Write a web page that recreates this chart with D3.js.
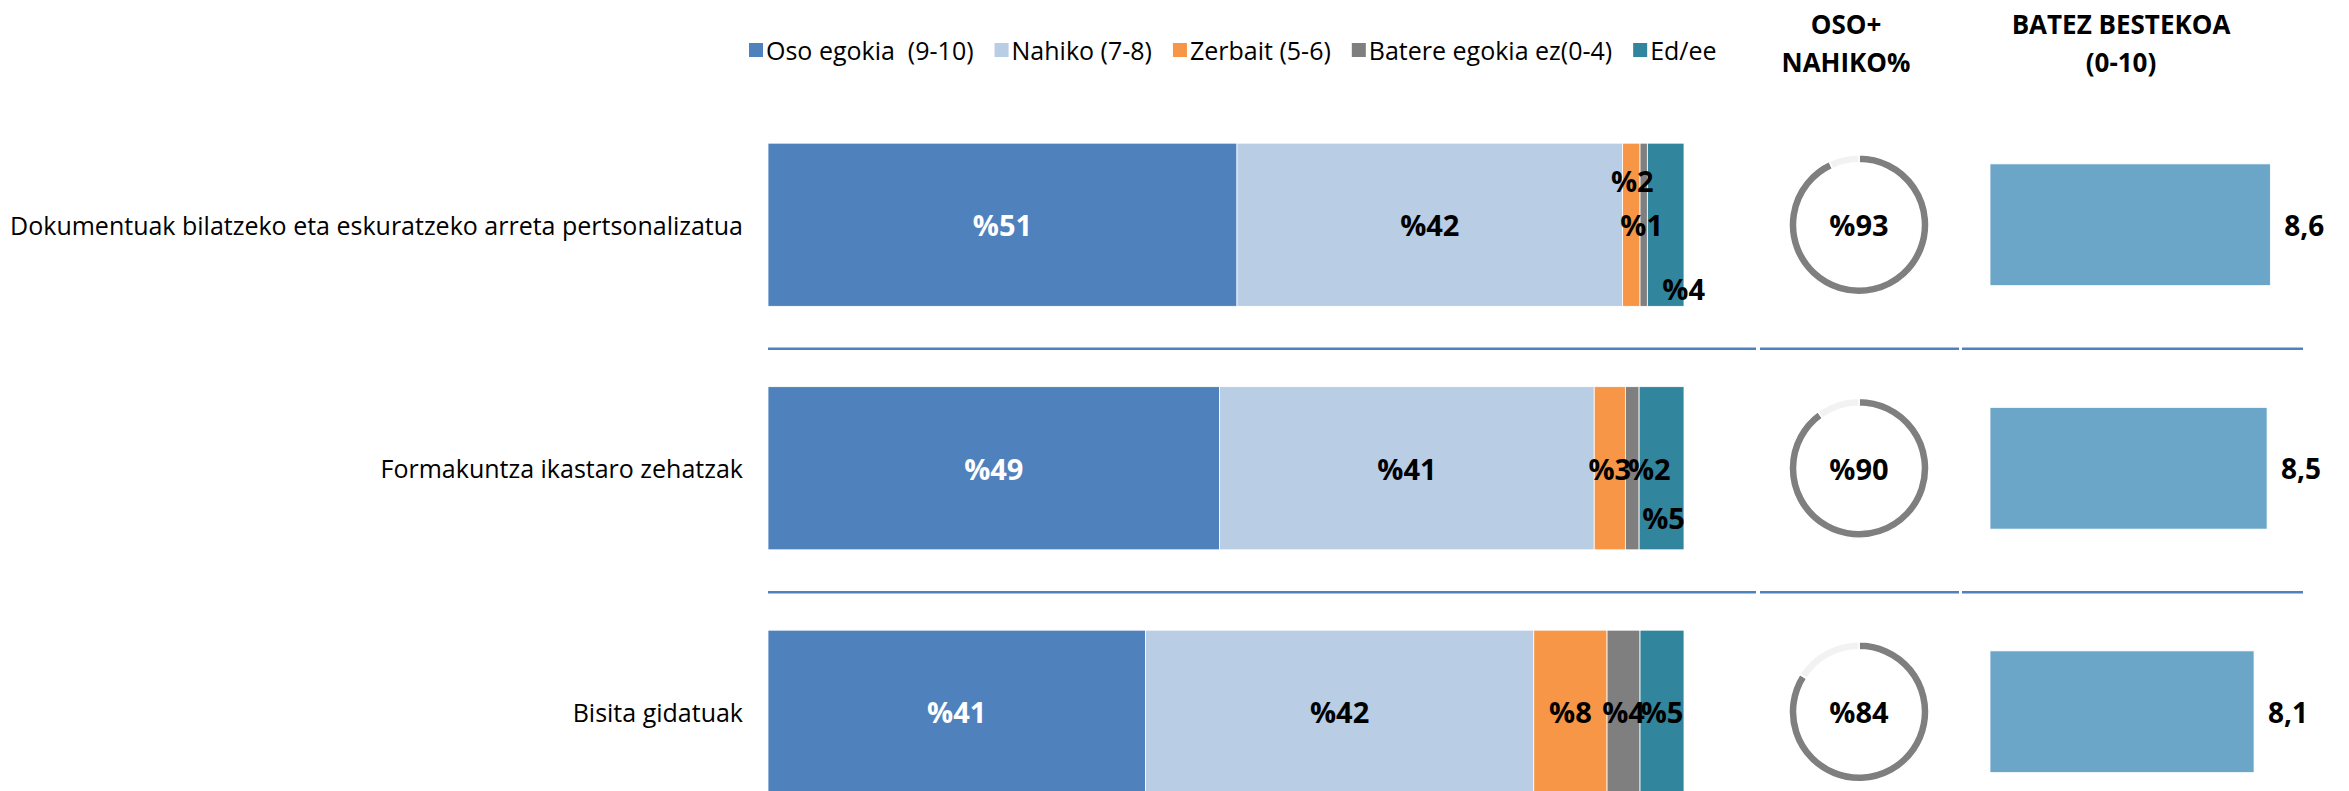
<!DOCTYPE html>
<html>
<head>
<meta charset="utf-8">
<script src="https://cdn.jsdelivr.net/npm/d3@7"></script>
<style>
  body { margin: 0; background: #fff; }
  text { font-family: 'Open Sans', sans-serif; }
</style>
</head>
<body>
<div id="root"></div>
<script>
const SVG_WIDTH = 2349;
const SVG_HEIGHT = 791;

const categories = [
  'Dokumentuak bilatzeko eta eskuratzeko arreta pertsonalizatua',
  'Formakuntza ikastaro zehatzak',
  'Bisita gidatuak',
];
const seriesNames = ['Oso egokia  (9-10)', 'Nahiko (7-8)', 'Zerbait (5-6)', 'Batere egokia ez(0-4)', 'Ed/ee'];
const osoEgokia = [51.2, 49.3, 41.2];
const nahiko = [42.1, 40.9, 42.4];
const zerbait = [1.9, 3.4, 8.0];
const batere = [0.8, 1.5, 3.6];
const edee = [4.0, 4.9, 4.8];
const osoNahiko = [93, 90, 84];
const batezBestekoa = [8.6, 8.5, 8.1];
const headers = [['OSO+', 'NAHIKO%'], ['BATEZ BESTEKOA', '(0-10)']];

const COLORS = ['#4f81bd', '#b9cde5', '#f79646', '#7f7f7f', '#31859c'];
const LINE_COLOR = '#4f81bd';
// hand placed nudges (dx, dy) for the labels of the thin segments
const LABEL_NUDGE = [
  [[0, 0], [0, 0], [1, -44], [-2, 0], [18, 64]],
  [[0, 0], [0, 0], [0, 0], [17, 0], [2, 49]],
  [[0, 0], [0, 0], [0, 0], [0, 0], [0, 0]],
];

const y = d3.scaleBand().domain(categories).range([103, 833.5]);
const xStack = d3.scaleLinear().domain([0, 100]).range([768, 1684]);
const xMean = d3.scaleLinear().domain([0, 10]).range([1990, 2316]);
const DONUT_X = 1859;
const PANELS = [[768, 1756], [1760, 1959], [1962, 2303]];

/**
 * svg container
 */
function addSvg() {
  const svg = document.createElementNS('http://www.w3.org/2000/svg', 'svg');
  svg.id = 'svg';
  svg.setAttribute('width', SVG_WIDTH);
  svg.setAttribute('height', SVG_HEIGHT);
  return svg;
}

const cy = (c) => y(c) + y.bandwidth() / 2;

/**
 * legend and column headers
 */
function legend() {
  const svg = d3.select('#svg');
  const g = svg.append('g');
  let x = 749;
  seriesNames.forEach((name, i) => {
    g.append('rect').attr('x', x).attr('y', 43).attr('width', 14).attr('height', 14).attr('fill', COLORS[i]);
    const t = g
      .append('text')
      .attr('x', x + 17)
      .attr('y', 50)
      .attr('dominant-baseline', 'central')
      .attr('font-size', 25)
      .attr('fill', '#000')
      .style('white-space', 'pre')
      .text(name);
    x += 17 + t.node().getComputedTextLength() + 21;
  });

  const hx = [1846, 2121];
  headers.forEach((lines, i) => {
    lines.forEach((s, j) => {
      svg
        .append('text')
        .attr('x', hx[i])
        .attr('y', 24 + j * 38)
        .attr('text-anchor', 'middle')
        .attr('dominant-baseline', 'central')
        .attr('font-size', 26)
        .attr('font-weight', 'bold')
        .text(s);
    });
  });
}

/**
 * stacked bars
 */
function stacked() {
  const svg = d3.select('#svg');
  const table = categories.map((c, i) => ({
    cat: c,
    [seriesNames[0]]: osoEgokia[i],
    [seriesNames[1]]: nahiko[i],
    [seriesNames[2]]: zerbait[i],
    [seriesNames[3]]: batere[i],
    [seriesNames[4]]: edee[i],
  }));
  const series = d3.stack().keys(seriesNames)(table);
  const h = y.bandwidth() * 0.67;

  svg
    .append('g')
    .selectAll('text')
    .data(categories)
    .join('text')
    .attr('x', 743)
    .attr('y', (d) => cy(d))
    .attr('text-anchor', 'end')
    .attr('dominant-baseline', 'central')
    .attr('font-size', 25)
    .text((d) => d);

  const g = svg
    .append('g')
    .selectAll('g')
    .data(series)
    .join('g')
    .attr('fill', (d, i) => COLORS[i]);
  g.selectAll('rect')
    .data((d) => d)
    .join('rect')
    .attr('x', (d) => xStack(d[0]))
    .attr('y', (d) => cy(d.data.cat) - h / 2)
    .attr('width', (d) => xStack(d[1]) - xStack(d[0]))
    .attr('height', h)
    .attr('stroke', '#fff')
    .attr('stroke-width', 0.8);

  series.forEach((s, k) => {
    svg
      .append('g')
      .selectAll('text')
      .data(s)
      .join('text')
      .attr('x', (d, i) => xStack((d[0] + d[1]) / 2) + LABEL_NUDGE[i][k][0])
      .attr('y', (d, i) => cy(d.data.cat) + LABEL_NUDGE[i][k][1])
      .attr('text-anchor', 'middle')
      .attr('dominant-baseline', 'central')
      .attr('font-size', 29)
      .attr('font-weight', 'bold')
      .attr('fill', k === 0 ? '#fff' : '#000')
      .text((d) => `%${Math.round(d[1] - d[0])}`);
  });
}

/**
 * donut rings with oso+nahiko
 */
function donuts() {
  const svg = d3.select('#svg');
  const pie = d3.pie().sort(null);
  const arc = d3.arc().innerRadius(62).outerRadius(70);
  categories.forEach((c, i) => {
    const g = svg.append('g').attr('transform', `translate(${DONUT_X},${cy(c)})`);
    g.selectAll('path')
      .data(pie([osoNahiko[i], 100 - osoNahiko[i]]))
      .join('path')
      .attr('d', arc)
      .attr('fill', (d, j) => (j === 0 ? '#7f7f7f' : '#f2f2f2'))
      .attr('stroke', '#fff')
      .attr('stroke-width', 1.5);
    g.append('text')
      .attr('text-anchor', 'middle')
      .attr('dominant-baseline', 'central')
      .attr('font-size', 29)
      .attr('font-weight', 'bold')
      .text(`%${osoNahiko[i]}`);
  });
}

/**
 * mean bars
 */
function means() {
  const svg = d3.select('#svg');
  const h = y.bandwidth() * 0.5;
  const g = svg.append('g');
  g.selectAll('rect')
    .data(batezBestekoa)
    .join('rect')
    .attr('x', xMean(0))
    .attr('y', (d, i) => cy(categories[i]) - h / 2)
    .attr('width', (d) => xMean(d) - xMean(0))
    .attr('height', h)
    .attr('fill', '#6ba6c9')
    .attr('stroke', '#fff')
    .attr('stroke-width', 0.8);
  g.selectAll('text')
    .data(batezBestekoa)
    .join('text')
    .attr('x', (d) => xMean(d) + 14)
    .attr('y', (d, i) => cy(categories[i]))
    .attr('dominant-baseline', 'central')
    .attr('font-size', 28)
    .attr('font-weight', 'bold')
    .text((d) => d3.format('.1f')(d).replace('.', ','));
}

/**
 * separator lines between the rows
 */
function separators() {
  const svg = d3.select('#svg');
  const g = svg.append('g');
  categories.slice(0, -1).forEach((c) => {
    const ly = cy(c) + 124;
    PANELS.forEach((p) => {
      g.append('line')
        .attr('x1', p[0])
        .attr('x2', p[1])
        .attr('y1', ly)
        .attr('y2', ly)
        .attr('stroke', LINE_COLOR)
        .attr('stroke-width', 2.5);
    });
  });
}

function main() {
  d3.select('#svg').append('rect').attr('width', SVG_WIDTH).attr('height', SVG_HEIGHT).attr('fill', '#fff');
  legend();
  stacked();
  donuts();
  means();
  separators();
}

const root = document.getElementById('root');
root.appendChild(addSvg());
main();
</script>
</body>
</html>
